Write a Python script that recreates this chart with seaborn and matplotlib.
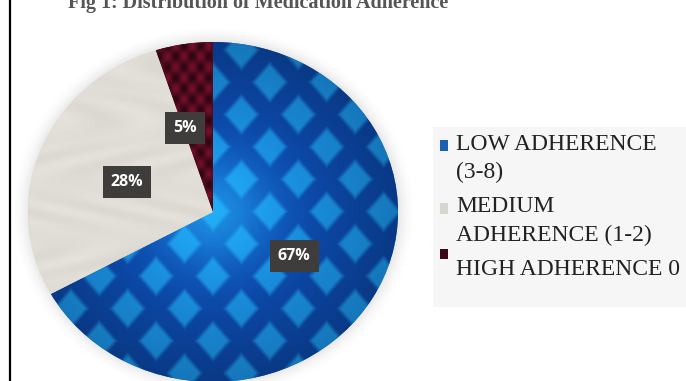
import numpy as np
import matplotlib
matplotlib.use("Agg")
import matplotlib.pyplot as plt
import seaborn as sns
from matplotlib.lines import Line2D
from matplotlib.patches import Rectangle

# --- data ---
categories = ["LOW ADHERENCE\n(3-8)", "MEDIUM\nADHERENCE (1-2)", "HIGH ADHERENCE 0"]
shares = [67, 28, 5]
slice_colors = ["#1560b8", "#d9d7cf", "#3a0716"]
legend_colors = ["#1a5fb0", "#d6d6d0", "#3a0a18"]
title = "Fig 1: Distribution of Medication Adherence"

sns.set_theme(style="white")
plt.rcParams["font.family"] = ["Liberation Serif", "DejaVu Serif"]

fig = plt.figure(figsize=(6.86, 3.81), dpi=100)
fig.patch.set_facecolor("white")

# pie sits in a slightly stretched box (looks like an ellipse in the original)
ax = fig.add_axes([28 / 686, -1 / 381, 370 / 686, 340 / 381])
wedges, texts, autotexts = ax.pie(
    shares, colors=slice_colors, startangle=90, counterclock=False,
    autopct="%1.0f%%", pctdistance=0.51, labels=None,
    wedgeprops=dict(linewidth=0),
)
ax.set_aspect("auto")
ax.set_xlim(-1, 1)
ax.set_ylim(-1, 1)

# soft shadow round the pie
ys, xs = np.mgrid[-1.12:1.12:300j, -1.12:1.12:300j]
rs = np.sqrt(xs ** 2 + ys ** 2)
shadow = np.zeros(rs.shape + (4,))
shadow[..., :3] = 0.55
shadow[..., 3] = np.clip(1 - (rs - 0.97) / 0.13, 0, 1) ** 2 * 0.35
ax.imshow(shadow, extent=(-1.12, 1.12, -1.12, 1.12), origin="lower",
          aspect="auto", zorder=0.5, clip_on=False)

# textured fills for the three slices
yy, xx = np.mgrid[-1:1:500j, -1:1:500j]
rr = np.clip(np.sqrt(xx ** 2 + yy ** 2), 0, 1)


def diamonds(sx, sy, size=0.34):
    u = (xx / sx) % 1 - 0.5
    v = (yy / sy) % 1 - 0.5
    a = np.abs(u) + np.abs(v)
    u2 = ((xx / sx) + 0.5) % 1 - 0.5
    v2 = ((yy / sy) + 0.5) % 1 - 0.5
    b = np.abs(u2) + np.abs(v2)
    d = np.minimum(a, b)
    return np.clip((size - d) / 0.1, 0, 1)


dm = diamonds(0.308, 0.38)[..., None]
light = np.clip(1 - rr, 0, 1)[..., None]
gap_col = np.array([0.05, 0.30, 0.70]) * (0.75 + 0.4 * light)
dia_col = np.array([0.10, 0.55, 0.86]) * (0.85 + 0.3 * light)
blue_img = gap_col * (1 - dm) + dia_col * dm
# bright glow in the centre of the pie
glow = np.exp(-(rr / 0.3) ** 2)[..., None]
blue_img = blue_img * (1 - 0.55 * glow) + np.array([0.15, 0.72, 0.95]) * 0.55 * glow
im = ax.imshow(np.clip(blue_img, 0, 1), extent=(-1, 1, -1, 1), origin="lower",
               aspect="auto", zorder=1.5, interpolation="bilinear")
im.set_clip_path(wedges[0])

swirl = 0.5 + 0.5 * np.sin(14 * xx + 6 * np.sin(9 * yy)) * np.cos(11 * yy)
gray_img = np.array([0.86, 0.85, 0.82]) + 0.035 * swirl[..., None]
im2 = ax.imshow(np.clip(gray_img, 0, 1), extent=(-1, 1, -1, 1),
                origin="lower", aspect="auto", zorder=1.5)
im2.set_clip_path(wedges[1])

knit = 0.5 + 0.5 * np.sin(70 * xx) * np.sin(50 * yy)
red_img = (np.array([0.18, 0.02, 0.07]) * (1 - knit[..., None])
           + np.array([0.45, 0.06, 0.16]) * knit[..., None])
im3 = ax.imshow(red_img, extent=(-1, 1, -1, 1), origin="lower",
                aspect="auto", zorder=1.5)
im3.set_clip_path(wedges[2])

for t in autotexts:
    t.set_color("white")
    t.set_fontweight("bold")
    t.set_fontsize(11.5)
    t.set_family(["Open Sans", "DejaVu Sans"])
    t.set_zorder(5)
    t.set_bbox(dict(boxstyle="square,pad=0.5", facecolor="#3e3d3b",
                    edgecolor="none"))
# the small slice label sits a bit left of the slice centre
x5, y5 = autotexts[2].get_position()
autotexts[2].set_position((x5 - 0.07, y5 - 0.01))
x28, y28 = autotexts[1].get_position()
autotexts[1].set_position((x28 + 0.01, y28 - 0.01))

# legend panel: light grey box, taller at the bottom than the text needs
fig.add_artist(Rectangle((433 / 686, 1 - 307 / 381), 260 / 686, 180 / 381,
                         transform=fig.transFigure, facecolor="#f6f6f6",
                         edgecolor="none", zorder=0))
handles = [matplotlib.patches.Patch(facecolor=c, edgecolor="none")
           for c in legend_colors]
leg = ax.legend(handles, categories, loc="upper left",
                bbox_to_anchor=(433 / 686, 1 - 127 / 381),
                bbox_transform=fig.transFigure, frameon=False,
                fontsize=17, handlelength=0.32, handleheight=0.32,
                handletextpad=0.35, labelspacing=0.55, borderpad=0.3,
                borderaxespad=0)
for txt in leg.get_texts():
    txt.set_color("#222222")
    txt.set_linespacing(1.45)
for h in leg.legend_handles:
    h.set_y(h.get_y() + 9)

# title clipped at the top edge, as in the cropped original
fig.text(68 / 686, 1 - 3 / 381, title, fontsize=14.5, color="#555555",
         fontweight="bold", ha="left", va="center")

# left border line
fig.add_artist(Line2D([10 / 686, 10 / 686], [0, 1], color="black",
                      linewidth=1.6, transform=fig.transFigure))

fig.savefig("out.png", dpi=100)
